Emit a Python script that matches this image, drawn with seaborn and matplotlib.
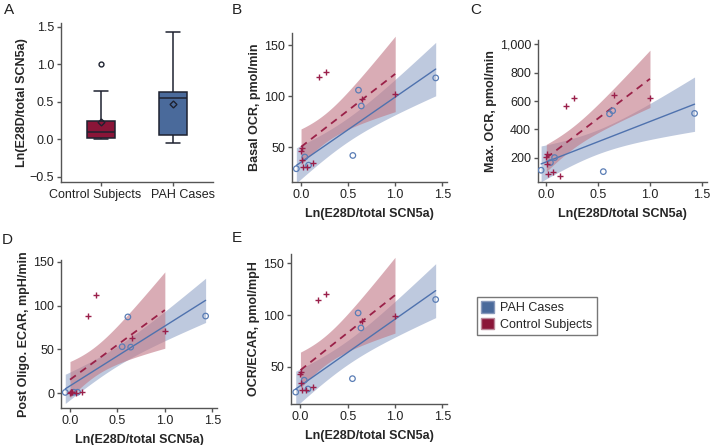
import numpy as np
import pandas as pd
import matplotlib
matplotlib.use("Agg")
import matplotlib.pyplot as plt
import matplotlib.transforms as mtransforms
import seaborn as sns
from matplotlib.patches import Patch
from matplotlib.ticker import FixedLocator, FuncFormatter

# x values: Ln(E28D/total SCN5a)
control_x = [0.00, 0.01, 0.01, 0.02, 0.06, 0.13, 0.19, 0.27, 0.65, 1.00]
pah_x = [-0.05, 0.04, 0.08, 0.55, 0.61, 0.64, 1.43]

# B - basal OCR
control_basal = [46, 49, 38, 31, 31, 34.5, 119, 124, 97, 102]
pah_basal = [29, 40.5, 32.5, 42, 106, 90.5, 118]

# C - max OCR
control_max = [207, 226, 155, 89, 101, 70, 567, 623, 640, 619]
pah_max = [113, 167, 202, 103, 510, 532, 513]

# D - post oligo ECAR
control_ecar = [0.5, 1.5, 0.8, 1.2, 0.6, 1.0, 87.5, 112, 63.5, 71]
pah_ecar = [0.8, 1.0, 1.0, 53, 87, 52.5, 88]

# E - OCR/ECAR
control_ratio = [43, 45, 34.5, 27.5, 28, 30.5, 115, 120, 94, 99.5]
pah_ratio = [25.5, 37, 28.5, 38.5, 102, 87.5, 115]

groups = ["Control Subjects", "PAH Cases"]

c_red = "#8A1538"
c_blue = "#4A6A9B"

# t quantiles (0.90, two-sided 80%) by degrees of freedom; matches the band width in the original
T_Q = {5: 1.476, 8: 1.397}

sns.set_style("ticks")
plt.rcParams['font.family'] = ['Liberation Sans', 'DejaVu Sans']
plt.rcParams['axes.edgecolor'] = '#555555'
plt.rcParams['xtick.color'] = '#555555'
plt.rcParams['ytick.color'] = '#555555'
plt.rcParams['xtick.labelcolor'] = '#222222'
plt.rcParams['ytick.labelcolor'] = '#222222'
plt.rcParams['xtick.major.size'] = 3
plt.rcParams['ytick.major.size'] = 3
plt.rcParams['axes.linewidth'] = 1.0

FS = 9

fig = plt.figure(figsize=(7.11, 4.45), dpi=100)


def add_ax(l, t, r, b):
    return fig.add_axes([l / 711, 1 - b / 445, (r - l) / 711, (b - t) / 445])


def style(ax):
    sns.despine(ax=ax)
    ax.tick_params(labelsize=FS, width=1.0, pad=2)


# Panel A boxplot
box_df = pd.DataFrame({
    "group": [groups[0]] * len(control_x) + [groups[1]] * len(pah_x),
    "val": control_x + pah_x,
})
axA = add_ax(61, 23, 213, 182)
sns.boxplot(data=box_df, x="group", y="val", hue="group", order=groups,
            palette={groups[0]: c_red, groups[1]: c_blue}, width=0.4, whis=1.75,
            linecolor="#1e2230", linewidth=1.1, showmeans=True, saturation=1,
            meanprops=dict(marker="D", markerfacecolor="none",
                           markeredgecolor="#1e2230", markersize=3.5),
            flierprops=dict(marker="o", markerfacecolor="none",
                            markeredgecolor="#1e2230", markersize=3.5),
            ax=axA, legend=False)
axA.set_xlim(-0.56, 1.56)
axA.set_ylim(-0.57, 1.55)
axA.yaxis.set_major_locator(FixedLocator([-0.5, 0, 0.5, 1.0, 1.5]))
axA.yaxis.set_major_formatter(FuncFormatter(lambda v, p: f"{v:.1f}".replace("-", "\u2212")))
axA.set_xlabel("")
axA.set_ylabel("Ln(E28D/total SCN5a)", fontsize=FS, fontweight="bold", labelpad=1)
style(axA)
# nudge the category labels apart like in the original
for lab, dx in zip(axA.get_xticklabels(), [-6, 10]):
    lab.set_transform(lab.get_transform() + mtransforms.ScaledTranslation(dx / 100, 0, fig.dpi_scale_trans))


def ci_band(ax, x, y, color, alpha):
    x = np.asarray(x, float)
    y = np.asarray(y, float)
    n = len(x)
    b1, b0 = np.polyfit(x, y, 1)
    resid = y - (b0 + b1 * x)
    s = np.sqrt((resid ** 2).sum() / (n - 2))
    sxx = ((x - x.mean()) ** 2).sum()
    grid = np.linspace(x.min(), x.max(), 100)
    fit = b0 + b1 * grid
    half = T_Q[n - 2] * s * np.sqrt(1 / n + (grid - x.mean()) ** 2 / sxx)
    ax.fill_between(grid, fit - half, fit + half, color=color, alpha=alpha,
                    linewidth=0, zorder=1)


def reg_panel(ax, cy, py, ylabel, ylim, yticks, fmt):
    ci_band(ax, pah_x, py, "#A9B7D3", 0.75)
    ci_band(ax, control_x, cy, "#C27A88", 0.62)
    sns.regplot(x=np.array(pah_x), y=np.array(py), ax=ax, scatter=False, ci=None,
                color="#4F72AE", line_kws=dict(lw=1.0, zorder=4))
    sns.regplot(x=np.array(control_x), y=np.array(cy), ax=ax, scatter=False, ci=None,
                color="#9A2148", line_kws=dict(lw=1.3, ls=(0, (4, 3)), zorder=4))
    sns.scatterplot(x=pah_x, y=py, ax=ax, marker="o", s=16,
                    facecolor="none", edgecolor="#5A7DB5", linewidth=0.9, zorder=5)
    sns.scatterplot(x=control_x, y=cy, ax=ax, marker="+", s=22,
                    color="#9A1F4A", linewidth=1.0, zorder=5)
    ax.set_ylim(*ylim)
    ax.yaxis.set_major_locator(FixedLocator(yticks))
    ax.yaxis.set_major_formatter(FuncFormatter(fmt))
    ax.xaxis.set_major_locator(FixedLocator([0, 0.5, 1.0, 1.5]))
    ax.xaxis.set_major_formatter(FuncFormatter(lambda v, p: f"{v:.1f}"))
    ax.set_xlabel("Ln(E28D/total SCN5a)", fontsize=FS, fontweight="bold", labelpad=5)
    ax.set_ylabel(ylabel, fontsize=FS, fontweight="bold", labelpad=2)
    style(ax)


int_fmt = lambda v, p: f"{v:,.0f}"

axB = add_ax(292, 33, 447, 182)
reg_panel(axB, control_basal, pah_basal, "Basal OCR, pmol/min", (16, 162), [50, 100, 150], int_fmt)
axB.set_xlim(-0.096, 1.55)

axC = add_ax(538, 40, 707, 182)
reg_panel(axC, control_max, pah_max, "Max. OCR, pmol/min", (30, 1030), [200, 400, 600, 800, 1000], int_fmt)
axC.set_xlim(-0.08, 1.55)

axD = add_ax(61, 260, 217, 408)
reg_panel(axD, control_ecar, pah_ecar, "Post Oligo. ECAR, mpH/min", (-17, 152), [0, 50, 100, 150], int_fmt)
axD.set_xlim(-0.095, 1.55)

axE = add_ax(291, 254, 447, 404)
reg_panel(axE, control_ratio, pah_ratio, "OCR/ECAR, pmol/mpH", (14, 159), [50, 100, 150], int_fmt)
axE.set_xlim(-0.1, 1.55)

# panel letters
for letter, px, py in [("A", 4, 3), ("B", 232, 3), ("C", 470, 3), ("D", 2, 233), ("E", 232, 231)]:
    fig.text(px / 711, 1 - py / 445, letter, fontsize=11, va="top", ha="left", color="#222222")

handles = [Patch(facecolor=c_blue, edgecolor="#8899bb", label="PAH Cases"),
           Patch(facecolor=c_red, edgecolor="#bb8899", label="Control Subjects")]
fig.legend(handles=handles, loc="upper left", bbox_to_anchor=(477 / 711, 1 - 297 / 445),
           frameon=True, fancybox=False, edgecolor="#555555", fontsize=FS,
           handlelength=1.0, handleheight=1.0, handletextpad=0.5, borderpad=0.35,
           labelspacing=0.3, borderaxespad=0)

fig.savefig("out.png", dpi=100)
